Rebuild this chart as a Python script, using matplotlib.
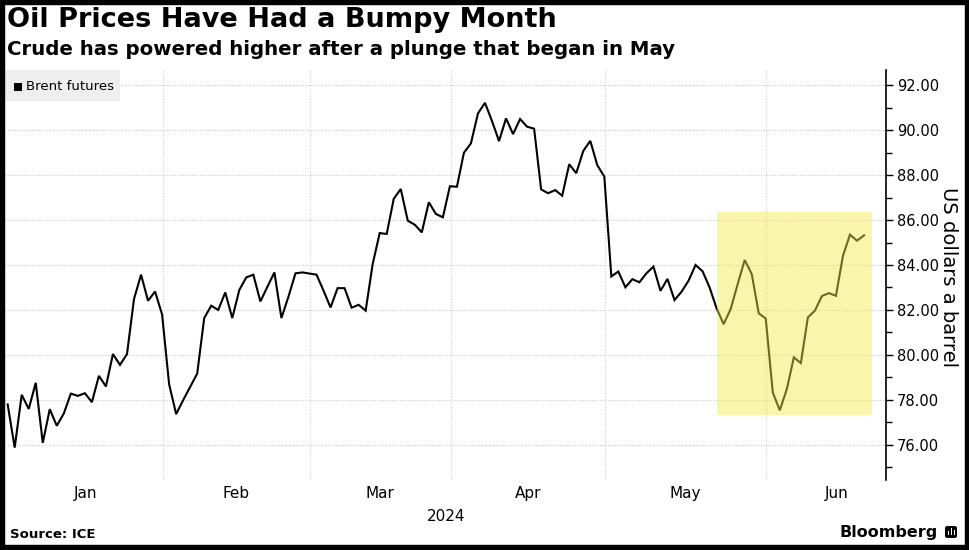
import numpy as np
import matplotlib
matplotlib.use("Agg")
import matplotlib.pyplot as plt
from matplotlib.patches import Rectangle, FancyBboxPatch

# Brent futures, daily settles (first point is the tail of Dec 2023)
prices = [77.8,
          # Jan
          75.88, 78.23, 77.6, 78.76, 76.09, 77.59, 76.85, 77.4, 78.28, 78.18, 78.3,
          77.9, 79.07, 78.6, 80.04, 79.56, 80.04, 82.49, 83.57, 82.41, 82.82, 81.8,
          # Feb
          78.70, 77.37, 77.99, 78.58, 79.17, 81.64, 82.19, 82.0, 82.78, 81.64, 82.89,
          83.45, 83.57, 82.38, 83.03, 83.67, 81.64, 82.59, 83.63, 83.67, 83.62,
          # Mar
          83.57, 82.86, 82.11, 82.97, 82.97, 82.1, 82.23, 81.97, 84.04, 85.42,
          85.38, 86.94, 87.38, 85.97, 85.79, 85.45, 86.79, 86.27, 86.12, 87.5,
          # Apr
          87.48, 88.99, 89.41, 90.74, 91.21, 90.4, 89.51, 90.52, 89.82, 90.49, 90.15,
          90.06, 87.36, 87.19, 87.33, 87.08, 88.48, 88.08, 89.07, 89.52, 88.44, 87.93,
          # May
          83.49, 83.71, 83.01, 83.37, 83.23, 83.63, 83.93, 82.85, 83.38, 82.44, 82.81,
          83.3, 84.0, 83.72, 83.0, 82.07, 81.37, 82.04, 83.15, 84.22, 83.6, 81.85, 81.62,
          # Jun
          78.33, 77.54, 78.48, 79.89, 79.64, 81.67, 81.97, 82.62, 82.75, 82.63,
          84.41, 85.35, 85.08, 85.32]

months = ["Jan", "Feb", "Mar", "Apr", "May", "Jun"]
month_sessions = [22, 21, 20, 22, 23, 20]   # trading days in each month
year_label = "2024"
yticks = [76, 78, 80, 82, 84, 86, 88, 90, 92]

# highlighted stretch (session index / price range)
hl_start, hl_end = 101.0, 123.1
hl_low, hl_high = 77.33, 86.34

W, H = 970, 550
fig = plt.figure(figsize=(W / 100, H / 100), dpi=100)
fig.patch.set_facecolor("white")

ax = fig.add_axes([5 / W, 1 - 480 / H, (886 - 5) / W, 410 / H])
x = np.arange(len(prices))
ax.plot(x, prices, color="black", lw=1.5, zorder=3, solid_joinstyle="miter")

ax.add_patch(Rectangle((hl_start, hl_low), hl_end - hl_start, hl_high - hl_low,
                       facecolor="#f5e94a", alpha=0.45, edgecolor="none", zorder=4))

ax.set_xlim(-0.38, 125.13)
ax.set_ylim(74.44, 92.67)

# month boundaries and labels
starts = 1 + np.concatenate([[0], np.cumsum(month_sessions)[:-1]])
for s in starts[1:]:
    ax.axvline(s - 0.9, color="#d0d0d0", lw=0.8, ls=(0, (1, 1.5)), zorder=1)
for y in yticks:
    ax.axhline(y, color="#c8c8c8", lw=0.8, ls=(0, (1, 1.5)), zorder=1)

ax.set_xticks(starts - 0.9 + np.array(month_sessions) / 2)
ax.set_xticklabels(months)
ax.tick_params(axis="x", length=0, pad=4, labelsize=11)
ax.text(62.4, -0.07, year_label, transform=ax.get_xaxis_transform(),
        ha="center", va="top", fontsize=11)

ax.yaxis.tick_right()
ax.yaxis.set_label_position("right")
ax.set_yticks(yticks)
ax.set_yticklabels([f"{v:.2f}" for v in yticks])
ax.set_yticks(np.arange(75, 93, 2), minor=True)
ax.tick_params(axis="y", which="major", direction="out", length=5, width=1,
               pad=3, labelsize=10.5)
ax.tick_params(axis="y", which="minor", direction="out", length=4, width=1)
ax.set_ylabel("US dollars a barrel", fontsize=14, rotation=270,
              ha="center", va="center")
ax.yaxis.set_label_coords((949 - 5) / (886 - 5), 0.495)

for side in ["top", "left", "bottom"]:
    ax.spines[side].set_visible(False)
ax.spines["right"].set_linewidth(1.2)

# legend chip
fig.patches.append(Rectangle((5 / W, 1 - 101 / H), 115 / W, 31 / H,
                             transform=fig.transFigure, facecolor="#eeeeee",
                             edgecolor="none", zorder=5))
fig.patches.append(Rectangle((14 / W, 1 - 91 / H), 8 / W, 8 / H,
                             transform=fig.transFigure, facecolor="black",
                             edgecolor="none", zorder=6))
fig.text(26 / W, 1 - 86 / H, "Brent futures", fontsize=9.5, va="center", zorder=7)

# titles and footer
fig.text(7 / W, 1 - 27 / H, "Oil Prices Have Had a Bumpy Month",
         fontsize=19.5, fontweight="bold", va="baseline")
fig.text(7 / W, 1 - 55 / H, "Crude has powered higher after a plunge that began in May",
         fontsize=14.2, fontweight="bold", va="baseline")
fig.text(10 / W, 1 - 534 / H, "Source: ICE", fontsize=9.5, fontweight="bold",
         va="center")
fig.text(938 / W, 1 - 532 / H, "Bloomberg", fontsize=11.5, fontweight="bold",
         va="center", ha="right")
fig.patches.append(FancyBboxPatch((945 / W, 1 - 538 / H), 12 / W, 12 / H,
                                  boxstyle="round,pad=0,rounding_size=0.003",
                                  transform=fig.transFigure, facecolor="black",
                                  edgecolor="none"))
for bx, bh in [(948, 4), (951, 7), (954, 5)]:
    fig.patches.append(Rectangle((bx / W, 1 - 535 / H), 1.5 / W, bh / H,
                                 transform=fig.transFigure, facecolor="white",
                                 edgecolor="none"))

# black frame round the picture
fig.patches.append(Rectangle((0, 0), 1, 1, transform=fig.transFigure,
                             facecolor="none", edgecolor="black", lw=7.5,
                             zorder=10))

fig.savefig("out.png", dpi=100)
